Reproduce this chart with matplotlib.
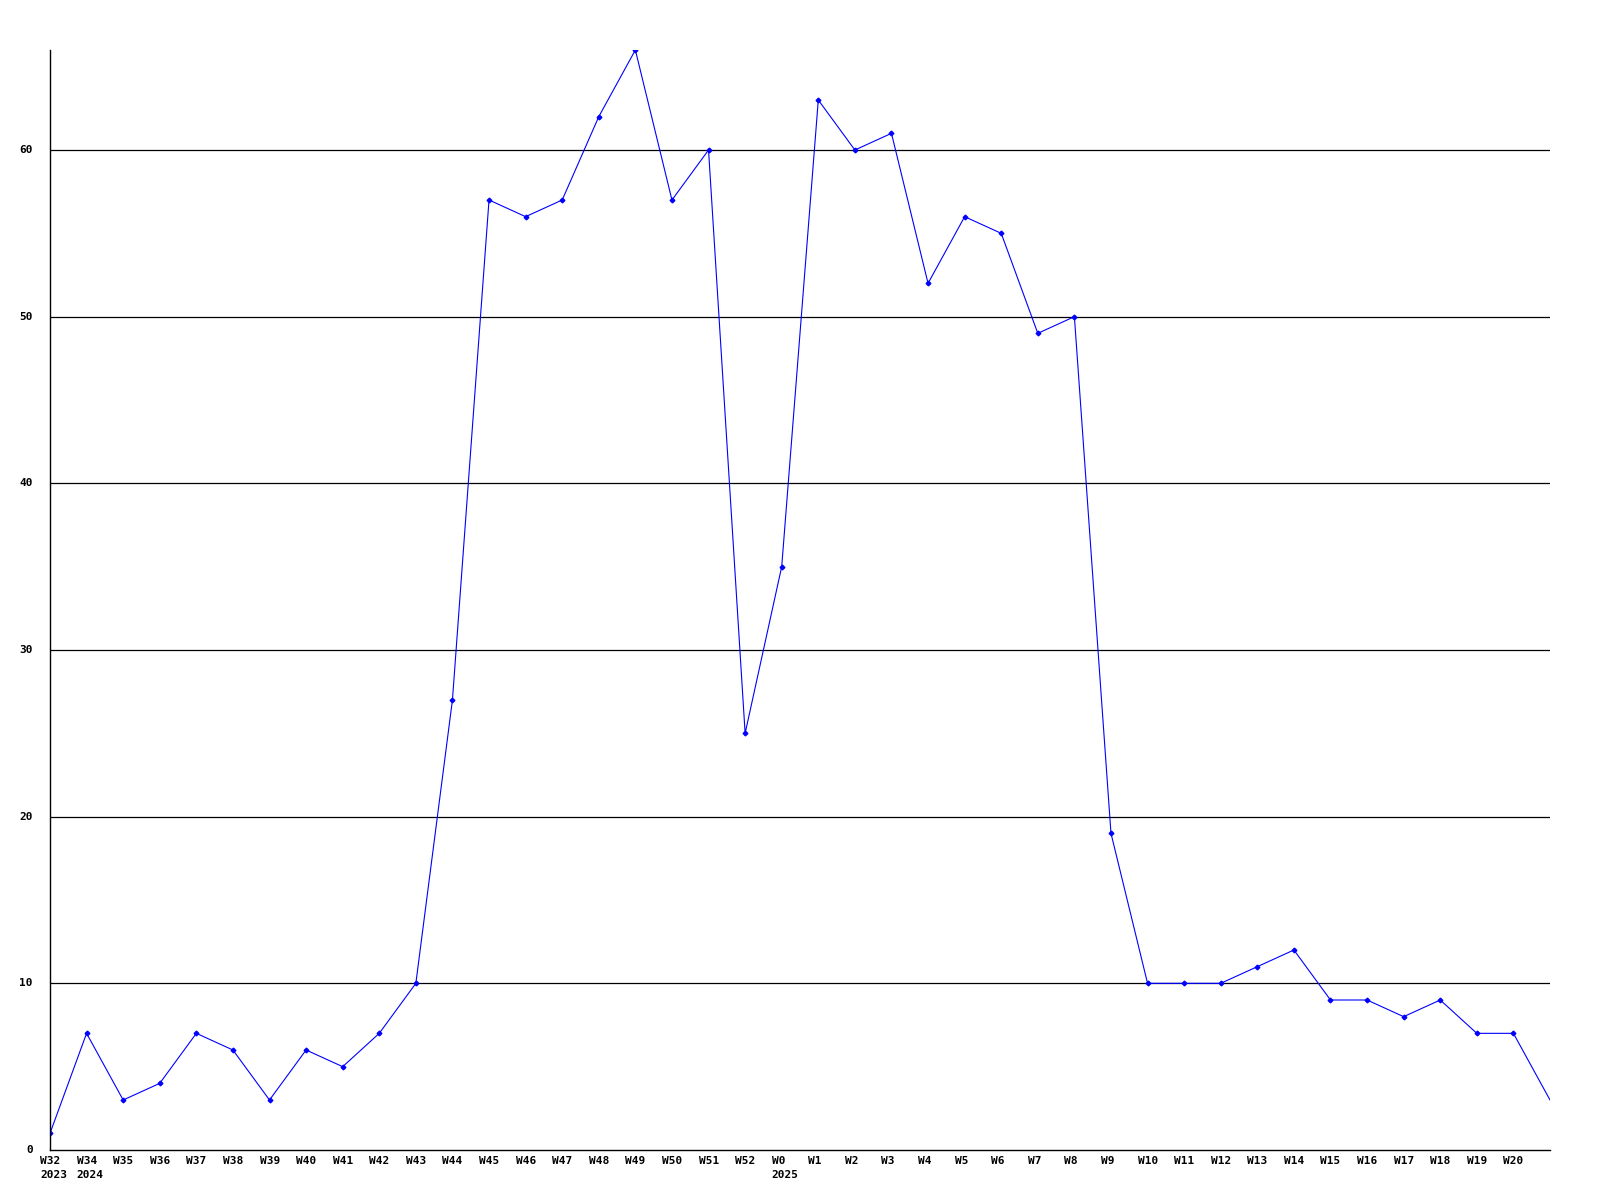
import matplotlib
matplotlib.use("Agg")
import matplotlib.pyplot as plt
import matplotlib.transforms as mtransforms

# weekly counts, W32 2023 .. W20 2025 plus the trailing (unlabelled) point
week_labels = ["W32", "W34", "W35", "W36", "W37", "W38", "W39", "W40", "W41", "W42",
               "W43", "W44", "W45", "W46", "W47", "W48", "W49", "W50", "W51", "W52",
               "W0", "W1", "W2", "W3", "W4", "W5", "W6", "W7", "W8", "W9",
               "W10", "W11", "W12", "W13", "W14", "W15", "W16", "W17", "W18", "W19",
               "W20", ""]
year_labels = {0: "2023", 1: "2024", 20: "2025"}
counts = [1, 7, 3, 4, 7, 6, 3, 6, 5, 7,
          10, 27, 57, 56, 57, 62, 66, 57, 60, 25,
          35, 63, 60, 61, 52, 56, 55, 49, 50, 19,
          10, 10, 10, 11, 12, 9, 9, 8, 9, 7,
          7, 3]
y_ticks = [0, 10, 20, 30, 40, 50, 60]

font = {"family": "DejaVu Sans Mono", "weight": "bold", "size": 8}

fig = plt.figure(figsize=(16, 12), dpi=100)
ax = fig.add_axes([50/1600, 50/1200, 1500/1600, 1100/1200])

x = list(range(len(counts)))
ax.plot(x, counts, color="#0000ff", lw=0.8)
# last point has no marker
ax.plot(x[:-1], counts[:-1], ls="none", marker="D", ms=2.4, color="#0000ff")

for v in y_ticks[1:]:
    ax.axhline(v, color="black", lw=0.9, zorder=0)

ax.set_xlim(0, len(counts) - 1)
ax.set_ylim(0, max(counts))
ax.set_xticks([])
ax.set_yticks([])
for s in ["top", "right"]:
    ax.spines[s].set_visible(False)
for s in ["left", "bottom"]:
    ax.spines[s].set_linewidth(1.0)
    ax.spines[s].set_color("black")

# y labels
ylab_tr = ax.get_yaxis_transform() + mtransforms.ScaledTranslation(-17/100, 0, fig.dpi_scale_trans)
for v in y_ticks:
    ax.text(0, v, str(v), transform=ylab_tr, ha="right", va="center", fontdict=font)

# x labels, left aligned a little before each point
xlab_tr = ax.get_xaxis_transform() + mtransforms.ScaledTranslation(-10/100, -6/100, fig.dpi_scale_trans)
for i, lab in enumerate(week_labels):
    if not lab:
        continue
    txt = lab + ("\n" + year_labels[i] if i in year_labels else "")
    ax.text(i, 0, txt, transform=xlab_tr, ha="left", va="top", fontdict=font, linespacing=1.5)

fig.savefig("out.png", dpi=100, facecolor="white")
